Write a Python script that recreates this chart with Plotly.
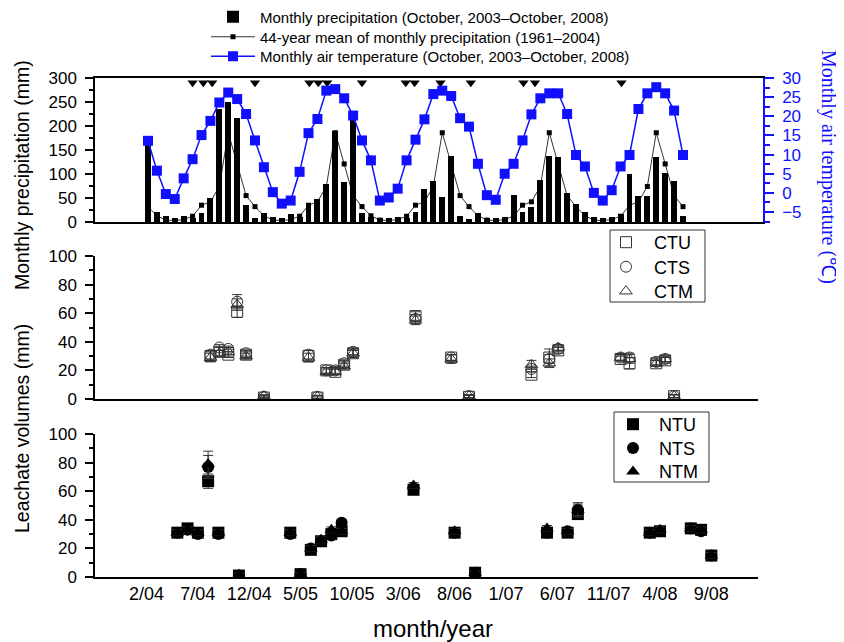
import plotly.graph_objects as go

# ---------------- data ----------------
# monthly series, Oct 2003 (index 0) ... Oct 2008 (index 60)
precip = [160, 20, 12, 9, 13, 8, 19, 51, 235, 249, 216, 35,
          9, 19, 11, 9, 17, 10, 40, 47, 79, 190, 84, 218,
          19, 11, 9, 8, 11, 8, 20, 68, 86, 53, 138, 13,
          7, 19, 9, 8, 10, 56, 21, 31, 88, 137, 135, 60,
          37, 20, 10, 9, 11, 17, 100, 54, 54, 136, 103, 86,
          12]
# 44-year mean by calendar month
mean_by_month = {1: 3, 2: 5, 3: 12, 4: 35, 5: 42, 6: 74, 7: 186, 8: 121,
                 9: 55, 10: 32, 11: 13, 12: 4}
temperature = [13.6, 5.8, -0.3, -1.6, 3.8, 8.8, 15.1, 18.8, 23.6, 26.2, 24.5, 20.6,
               13.7, 6.7, 0.2, -2.8, -2.0, 5.5, 15.6, 19.3, 26.7, 27.1, 24.7, 20.2,
               13.7, 8.5, -2.0, -1.2, 1.1, 8.5, 13.9, 19.2, 25.8, 26.7, 25.3, 19.5,
               17.3, 7.6, -0.6, -1.8, 5.0, 7.6, 13.7, 20.5, 24.7, 26.0, 26.0, 20.6,
               9.9, 6.9, 0.0, -2.0, 0.7, 6.9, 9.9, 21.9, 26.0, 27.6, 26.0, 21.5,
               9.9]
# sampling-event markers on the top axis (month index from Oct 2003)
event_months = [5.0, 6.2, 7.2, 12.0, 18.1, 19.1, 20.1, 24.0, 28.9, 29.9,
                32.8, 36.2, 42.1, 43.4, 53.1]

# leachate sampling months (month index from Oct 2003)
leach_months = [7, 8, 9, 10, 11, 13, 18, 19, 20, 21, 22, 23, 30, 34, 36,
                43, 45, 46, 53, 54, 57, 58, 59]
CTU = [30, 33, 31, 61, 31, 1, 30, 1, 20, 19, 24, 32, 58, 29, 1.5, 17, 29, 34, 28, 25, 25, 27, 2]
CTS = [31, 36, 35, 68, 32, 1.5, 31, 1.5, 20, 20, 25, 33, 56, 29, 2, 21, 28, 35, 29, 29, 26, 28, 2]
CTM = [29, 32, 33, 66, 30, 2, 29, 1.5, 19, 19, 23, 32, 55, 28, 2, 24, 25, 36, 29, 28, 25, 28, 2]
CTU_err = [3, 3, 2, 4, 2, 1, 4, 1, 2, 2, 2, 2, 3, 2, 1, 2, 6, 2, 2, 4, 2, 2, 1]
CTS_err = [3, 2, 2, 5, 2, 1, 3, 1, 2, 2, 2, 2, 3, 2, 1, 2, 3, 2, 2, 3, 2, 2, 1]
CTM_err = [3, 2, 3, 4, 2, 1, 3, 1, 2, 2, 2, 3, 3, 3, 1, 3, 3, 2, 2, 3, 2, 2, 1]

NTU = [31, 34, 31, 67, 31, 1, 31, 2, 19, 25, 30, 32, 61, 31, 3, 31, 31, 44, 31, 32, 34, 33, 15]
NTS = [31, 33, 30, 77, 30, 1, 30, 2, 20, 25, 29, 38, 62, 31, 3, 31, 32, 47, 31, 32, 34, 32, 15]
NTM = [31, 33, 31, 79, 31, 1.5, 31, 2, 20, 26, 33, 32, 64, 32, 3, 34, 32, 47, 31, 33, 34, 33, 15]
NTU_err = [2, 3, 2, 5, 2, 1, 2, 1, 3, 2, 2, 2, 2, 2, 1, 2, 2, 3, 2, 2, 2, 2, 2]
NTS_err = [2, 2, 2, 8, 2, 1, 2, 1, 2, 2, 2, 2, 2, 2, 1, 2, 2, 5, 2, 2, 2, 2, 2]
NTM_err = [2, 2, 2, 9, 2, 1, 2, 1, 2, 2, 2, 2, 2, 2, 1, 2, 2, 4, 2, 2, 2, 2, 2]

tick_labels = ["2/04", "7/04", "12/04", "5/05", "10/05", "3/06", "8/06",
               "1/07", "6/07", "11/07", "4/08", "9/08"]
tick_months = [4, 9, 14, 19, 24, 29, 34, 39, 44, 49, 54, 59]

# ---------------- derived ----------------
idx = list(range(len(precip)))
cal_month = [((10 - 1 + i) % 12) + 1 for i in idx]
mean_precip = [mean_by_month[m] for m in cal_month]

W, H = 844, 642
OFF = 8                      # page body margin of the browser
FW, FH = W - OFF, H - OFF
FONT = "Liberation Sans, Arial, sans-serif"
SERIF = "Liberation Serif, Times New Roman, serif"
BLUE = "#1010ff"
MGRAY = "#333"


def px_x(p):
    return (p - OFF) / FW


def px_y(p):
    return 1 - (p - OFF) / FH


fig = go.Figure()

# top panel
fig.add_trace(go.Bar(x=idx, y=precip, width=0.66, marker=dict(color="black", line=dict(width=0)),
                     name="Monthly precipitation (October, 2003\u2013October, 2008)",
                     xaxis="x", yaxis="y", legend="legend"))
fig.add_trace(go.Scatter(x=idx, y=mean_precip, mode="lines+markers",
                         line=dict(color="black", width=0.8),
                         marker=dict(symbol="square", size=5, color="black"),
                         name="44-year mean of monthly precipitation (1961\u20132004)",
                         xaxis="x", yaxis="y", legend="legend4"))
fig.add_trace(go.Scatter(x=event_months, y=[290] * len(event_months), mode="markers",
                         marker=dict(symbol="triangle-down", size=9, color="black"),
                         showlegend=False, cliponaxis=False, xaxis="x", yaxis="y"))
fig.add_trace(go.Scatter(x=idx, y=temperature, mode="lines+markers",
                         line=dict(color=BLUE, width=1.5),
                         marker=dict(symbol="square", size=10, color=BLUE),
                         name="Monthly air temperature (October, 2003\u2013October, 2008)",
                         xaxis="x", yaxis="y2", legend="legend5"))

# middle panel
for name, vals, errs, sym, lg in [("CTU", CTU, CTU_err, "square-open", "legend2"),
                                  ("CTS", CTS, CTS_err, "circle-open", "legend6"),
                                  ("CTM", CTM, CTM_err, "triangle-up-open", "legend7")]:
    fig.add_trace(go.Scatter(x=leach_months, y=vals, mode="markers", name=name,
                             marker=dict(symbol=sym, size=11, color=MGRAY,
                                         line=dict(width=1, color=MGRAY)),
                             error_y=dict(type="data", array=errs, color=MGRAY,
                                          thickness=1, width=5),
                             xaxis="x2", yaxis="y3", legend=lg))

# bottom panel
for name, vals, errs, sym, lg in [("NTU", NTU, NTU_err, "square", "legend3"),
                                  ("NTS", NTS, NTS_err, "circle", "legend8"),
                                  ("NTM", NTM, NTM_err, "triangle-up", "legend9")]:
    fig.add_trace(go.Scatter(x=leach_months, y=vals, mode="markers", name=name,
                             marker=dict(symbol=sym, size=12, color="black"),
                             error_y=dict(type="data", array=errs, color=MGRAY,
                                          thickness=1, width=5),
                             xaxis="x3", yaxis="y4", legend=lg))

top_scale = 8.917   # px per month
bot_scale = 10.27
left_px, top_right_px, low_right_px = 95, 763, 758
top_x0 = -(148 - left_px) / top_scale
bot_x0 = 4 - (146.5 - left_px) / bot_scale

axis_common = dict(showgrid=False, zeroline=False, showline=True, linecolor="black",
                   linewidth=1.5, automargin=False)
ytick_common = dict(ticks="outside", ticklen=8, tickwidth=1.5, tickcolor="black",
                    ticklabelstandoff=5,
                    tickfont=dict(family=FONT, size=17, color="black"))


def single_legend(left, row, size, itemwidth):
    return dict(x=px_x(left), y=px_y(row), xanchor="left", yanchor="middle",
                bgcolor="rgba(0,0,0,0)", borderwidth=0, itemwidth=itemwidth,
                font=dict(family=FONT, size=size, color="black"))


legends = {
    "legend": single_legend(206, 17, 15, 44),
    "legend4": single_legend(206, 37, 15, 44),
    "legend5": single_legend(206, 56.5, 15, 44),
    "legend2": single_legend(598, 242.5, 18, 46),
    "legend6": single_legend(598, 267, 18, 46),
    "legend7": single_legend(598, 291.5, 18, 46),
    "legend3": single_legend(607, 424.5, 18, 42),
    "legend8": single_legend(607, 448.3, 18, 42),
    "legend9": single_legend(607, 471.7, 18, 42),
}

fig.update_layout(
    width=FW, height=FH,
    margin=dict(l=0, r=0, t=0, b=0, autoexpand=False),
    paper_bgcolor="white", plot_bgcolor="white",
    font=dict(family=FONT, color="black"),
    bargap=0,
    xaxis=dict(domain=[px_x(left_px), px_x(top_right_px)],
               range=[top_x0, top_x0 + (top_right_px - left_px) / top_scale],
               showticklabels=False, ticks="", mirror=True, anchor="y", **axis_common),
    yaxis=dict(domain=[px_y(222), px_y(78)], range=[0, 300], dtick=50, tick0=0,
               anchor="x",
               minor=dict(dtick=25, ticklen=4, ticks="outside", tickcolor="black", tickwidth=1.5),
               **axis_common, **ytick_common),
    yaxis2=dict(overlaying="y", side="right", anchor="x", range=[-7.6, 30],
                tick0=0, dtick=5, showgrid=False, zeroline=False, showline=True,
                linecolor=BLUE, linewidth=1.5, automargin=False,
                ticks="outside", ticklen=9, tickwidth=1.5, tickcolor=BLUE,
                ticklabelstandoff=5,
                minor=dict(dtick=2.5, ticklen=5, ticks="outside", tickcolor=BLUE, tickwidth=1.5),
                tickfont=dict(family=FONT, size=17, color=BLUE)),
    xaxis2=dict(domain=[px_x(left_px), px_x(low_right_px)],
                range=[top_x0, top_x0 + (low_right_px - left_px) / top_scale],
                showticklabels=False, ticks="", anchor="y3", **axis_common),
    yaxis3=dict(domain=[px_y(399), px_y(256)], range=[0, 100], dtick=20, tick0=0,
                anchor="x2",
                minor=dict(dtick=10, ticklen=4, ticks="outside", tickcolor="black", tickwidth=1.5),
                **axis_common, **ytick_common),
    xaxis3=dict(domain=[px_x(left_px), px_x(low_right_px)],
                range=[bot_x0, bot_x0 + (low_right_px - left_px) / bot_scale],
                tickvals=tick_months, ticktext=tick_labels, ticks="",
                tickfont=dict(family=FONT, size=18, color="black"),
                anchor="y4", **axis_common),
    yaxis4=dict(domain=[px_y(577), px_y(434)], range=[0, 100], dtick=20, tick0=0,
                anchor="x3",
                minor=dict(dtick=10, ticklen=4, ticks="outside", tickcolor="black", tickwidth=1.5),
                **axis_common, **ytick_common),
    shapes=[
        dict(type="rect", xref="paper", yref="paper", layer="above",
             x0=px_x(610), x1=px_x(705), y0=px_y(302), y1=px_y(230),
             line=dict(color=MGRAY, width=1), fillcolor="rgba(0,0,0,0)"),
        dict(type="rect", xref="paper", yref="paper", layer="above",
             x0=px_x(614), x1=px_x(709), y0=px_y(482), y1=px_y(412),
             line=dict(color=MGRAY, width=1), fillcolor="rgba(0,0,0,0)"),
    ],
    annotations=[
        dict(text="Monthly precipitation (mm)", x=px_x(22), y=px_y(175), xref="paper",
             yref="paper", showarrow=False, textangle=-90, xanchor="center", yanchor="middle",
             font=dict(family=FONT, size=19.5, color="black")),
        dict(text="Leachate volumes (mm)", x=px_x(22), y=px_y(429), xref="paper",
             yref="paper", showarrow=False, textangle=-90, xanchor="center", yanchor="middle",
             font=dict(family=FONT, size=19.5, color="black")),
        dict(text="Monthly air temperature (\u2103)", x=px_x(829), y=px_y(167), xref="paper",
             yref="paper", showarrow=False, textangle=90, xanchor="center", yanchor="middle",
             font=dict(family=SERIF, size=20, color=BLUE)),
        dict(text="month/year", x=px_x(433), y=px_y(628), xref="paper", yref="paper",
             showarrow=False, xanchor="center", yanchor="middle",
             font=dict(family=FONT, size=24, color="black")),
    ],
    **legends,
)

fig.write_html("out.html")
